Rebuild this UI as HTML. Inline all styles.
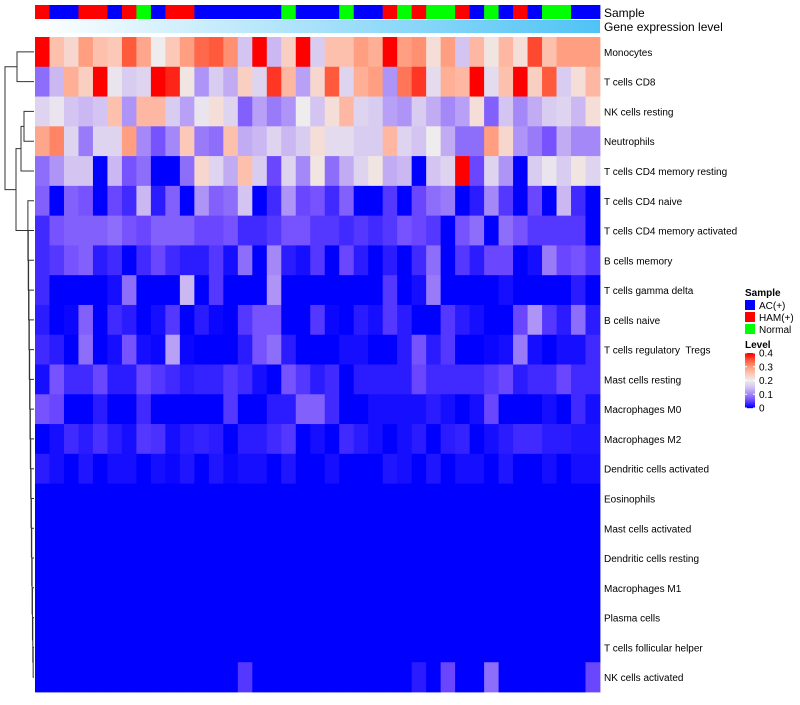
<!DOCTYPE html>
<html><head><meta charset="utf-8"><style>
body{margin:0;background:#fff;font-family:"Liberation Sans",sans-serif}
svg text{font-family:"Liberation Sans",sans-serif;white-space:pre}
</style></head><body>
<svg id="chart" width="800" height="700" xmlns="http://www.w3.org/2000/svg">
<defs>
<linearGradient id="geneGrad" x1="0" x2="1" y1="0" y2="0"><stop offset="0" stop-color="#ffffff"/><stop offset="1" stop-color="#4fc3f5"/></linearGradient>
</defs>
<g id="dendro" stroke="#333" stroke-width="1" fill="none"></g>
<g id="cells"></g>
<g id="samplebar"></g>
<rect x="35" y="20" width="565" height="13" fill="url(#geneGrad)"/>
<text x="604" y="17" font-size="12">Sample</text>
<text x="604" y="31" font-size="12">Gene expression level</text>
<g id="rowlabels" font-size="10"></g>
<g font-size="10">
<text x="745" y="296" font-weight="bold">Sample</text>
<rect x="745" y="300" width="10" height="10" fill="#0000ff"/>
<text x="759" y="309">AC(+)</text>
<rect x="745" y="312" width="10" height="10" fill="#ff0000"/>
<text x="759" y="321">HAM(+)</text>
<rect x="745" y="324" width="10" height="10" fill="#00ff00"/>
<text x="759" y="333">Normal</text>
<text x="745" y="348" font-weight="bold">Level</text>
<g id="levelbar"></g>
</g>
</svg>
<script>
const rowNames=["Monocytes","T cells CD8","NK cells resting","Neutrophils","T cells CD4 memory resting","T cells CD4 naive","T cells CD4 memory activated","B cells memory","T cells gamma delta","B cells naive","T cells regulatory  Tregs","Mast cells resting","Macrophages M0","Macrophages M2","Dendritic cells activated","Eosinophils","Mast cells activated","Dendritic cells resting","Macrophages M1","Plasma cells","T cells follicular helper","NK cells activated"];
const sampleGroups=["HAM","AC","AC","HAM","HAM","AC","HAM","N","AC","HAM","HAM","AC","AC","AC","AC","AC","AC","N","AC","AC","AC","N","AC","AC","HAM","N","HAM","N","N","HAM","AC","N","AC","HAM","AC","N","N","AC","AC"];
const r0=[.40,.26,.23,.30,.26,.25,.35,.29,.20,.25,.30,.34,.35,.31,.15,.40,.14,.24,.40,.16,.26,.26,.30,.28,.40,.30,.31,.22,.30,.15,.27,.21,.27,.22,.36,.26,.30,.30,.30];
const r1=[.08,.14,.28,.24,.40,.19,.16,.17,.40,.38,.21,.11,.16,.13,.24,.17,.37,.27,.12,.23,.35,.17,.28,.30,.11,.33,.37,.18,.28,.27,.40,.18,.26,.40,.24,.35,.16,.22,.27];
const r2=[.17,.19,.15,.14,.15,.26,.11,.27,.27,.16,.12,.19,.22,.17,.07,.12,.09,.11,.20,.15,.22,.27,.17,.16,.12,.11,.16,.13,.10,.12,.22,.07,.15,.10,.13,.16,.17,.14,.22];
const r3=[.29,.32,.17,.09,.17,.17,.30,.10,.06,.10,.25,.09,.08,.26,.13,.14,.17,.14,.16,.22,.18,.18,.16,.16,.27,.17,.15,.20,.13,.08,.08,.30,.23,.11,.09,.06,.13,.10,.10];
const r4=[.08,.11,.15,.15,0,.14,.06,.08,0,0,.08,.23,.17,.13,.26,.16,.05,.17,.10,.21,.08,.13,.17,.21,.13,.14,0,.15,.17,.40,.05,.17,.11,0,.16,.19,.16,.21,.17];
const r5=[.07,0,.07,.06,0,.05,.03,.14,.02,.07,0,.11,.07,.08,.15,0,.03,.11,.05,.06,.03,.07,0,0,.04,0,.05,.08,.09,0,.02,.10,.04,0,.05,0,.14,.03,0];
const r6=[.03,.06,.07,.07,.07,.08,.06,.05,.07,.07,.07,.05,.05,.06,.03,.03,.04,.06,.06,.04,.04,.03,.04,.03,.04,.06,.05,.04,0,.06,.08,0,.08,.06,.04,.04,.04,.04,0];
const r7=[.03,.04,.06,.07,.02,.03,0,.03,.05,.03,.02,.02,.04,.01,.08,0,.10,.02,.01,.04,0,.05,.02,0,.02,0,.03,.08,0,.04,.02,.05,.05,0,.01,.09,.05,.06,.04];
const r8=[.03,0,0,0,0,.01,.08,0,0,0,.14,0,.04,0,0,0,.11,0,0,0,0,0,0,0,.04,0,.01,.09,0,0,0,0,.01,0,0,0,0,.02,0];
const r9=[.02,0,.005,.07,0,.03,.02,0,.01,.04,0,.02,.005,0,.04,.06,.06,0,0,.04,.005,0,.02,.01,.04,.02,0,0,.04,.02,.01,0,0,.05,.11,.04,.02,.08,.02];
const r10=[.03,.02,0,.08,0,.01,.06,.01,.005,.12,.005,0,0,0,.02,.06,.08,.02,0,0,0,.01,.01,0,0,.02,.06,.02,.04,0,0,.005,.01,.09,.01,0,.01,.01,.03];
const r11=[.01,.06,.03,.03,.05,.02,.02,.05,.04,.03,.02,.025,.025,.04,.03,.01,0,.06,.04,.02,.03,0,.02,.02,.02,.02,.05,.03,.03,.03,.03,.04,.05,.02,.03,.03,.05,.03,.03];
const r12=[.06,.05,0,0,.02,0,0,.03,0,0,0,0,0,.04,0,0,.02,.02,.07,.07,.03,0,0,.01,.01,.01,.01,.02,.01,0,.01,.05,0,0,0,.01,0,.03,.01];
const r13=[0,.01,.03,.02,.035,.02,.01,.04,.035,.01,.02,.025,.02,0,.02,.02,.03,.04,0,.01,0,.03,.02,.01,0,.01,.02,0,.02,.025,0,.01,.02,.03,.03,.02,.02,.015,.015];
const r14=[.02,.01,0,.015,0,.01,.01,0,.01,.005,.015,0,.015,.005,.01,.01,0,.015,0,0,.01,0,0,0,.015,.01,0,.015,0,.01,.01,0,.015,0,0,.01,0,.01,.01];
const r15=[0,0,0,0,0,0,0,0,0,0,0,0,0,0,0,0,0,0,0,0,0,0,0,0,0,0,0,0,0,0,0,0,0,0,0,0,0,0,0];
const r16=r15.slice(),r17=r15.slice(),r18=r15.slice(),r19=r15.slice(),r20=r15.slice();
const r21=[0,0,0,0,0,0,0,0,0,0,0,0,0,0,.04,0,0,0,0,0,0,0,0,0,0,0,.02,0,.05,0,0,.08,0,0,0,0,0,0,.05];
const values=[r0,r1,r2,r3,r4,r5,r6,r7,r8,r9,r10,r11,r12,r13,r14,r15,r16,r17,r18,r19,r20,r21];
const levelTicks=[0,0.1,0.2,0.3,0.4];
const groupColors={AC:"#0000ff",HAM:"#ff0000",N:"#00ff00"};
const NS="http://www.w3.org/2000/svg";
const X0=35,X1=600,Y0=37,Y1=692;
const nCol=sampleGroups.length,nRow=rowNames.length;
const cw=(X1-X0)/nCol,rh=(Y1-Y0)/nRow;
const xPos=i=>X0+i*cw, yPos=j=>Y0+j*rh;
const stops=[[0,[0,0,255]],[.05,[106,70,255]],[.1,[165,136,248]],[.15,[212,196,242]],[.2,[238,236,236]],[.25,[252,200,184]],[.3,[255,158,128]],[.35,[255,90,60]],[.4,[255,0,0]]];
function col(v){v=Math.max(0,Math.min(.4,v));for(let k=1;k<stops.length;k++){if(v<=stops[k][0]){const a=stops[k-1],b=stops[k],t=(v-a[0])/(b[0]-a[0]);const c=a[1].map((x,i)=>Math.round(x+(b[1][i]-x)*t));return`rgb(${c})`;}}return"rgb(255,0,0)";}
function mk(t,a,p){const e=document.createElementNS(NS,t);for(const k in a)e.setAttribute(k,a[k]);p.appendChild(e);return e;}
const cells=document.getElementById('cells');
values.forEach((row,j)=>row.forEach((v,i)=>{
 const r=mk('rect',{x:xPos(i),y:yPos(j),width:cw+0.4,height:rh+0.4,fill:col(v)},cells);
 
 
}));
const sb=document.getElementById('samplebar');
sampleGroups.forEach((g,i)=>{
 const r=mk('rect',{x:xPos(i),y:5,width:cw+0.4,height:14,fill:groupColors[g]},sb);
 
 
});
const rl=document.getElementById('rowlabels');
rowNames.forEach((n,j)=>{
 const t=mk('text',{x:604,y:yPos(j)+rh/2+4},rl);t.textContent=n;
 
 
});
const lb=document.getElementById('levelbar');
const LY0=353,LY1=408;
for(let k=0;k<55;k++){const v=0.4*(1-k/54);mk('rect',{x:745,y:LY0+k,width:10,height:1.2,fill:col(v)},lb);}
levelTicks.forEach(v=>{const y=LY1-(v/0.4)*(LY1-LY0);
 mk('line',{x1:745,x2:747,y1:y,y2:y,stroke:'#fff'},lb);mk('line',{x1:753,x2:755,y1:y,y2:y,stroke:'#fff'},lb);
 const t=mk('text',{x:759,y:y+3.5},lb);t.textContent=String(v);
 
 });
const d=document.getElementById('dendro');
const cy=j=>yPos(j)+rh/2;
function link(x,ya,yb,xa,xb){mk('path',{d:`M${xa},${ya}H${x}V${yb}H${xb}`},d);}
link(17,cy(0),cy(1),34,34);
link(24,cy(2),cy(3),34,34);
const n23=(cy(2)+cy(3))/2;
link(21,n23,cy(4),24,34);
const n234=(n23+cy(4))/2;
let prevY=cy(21),prevX=34;
for(let j=20;j>=5;j--){const x=34-(21-j)*0.35-0.5;link(x,cy(j),prevY,34,prevX);prevY=(cy(j)+prevY)/2;prevX=x;}
link(16,n234,prevY,21,prevX);
const nlow=(n234+prevY)/2;
link(5,(cy(0)+cy(1))/2,nlow,17,16);
</script>
</body></html>
